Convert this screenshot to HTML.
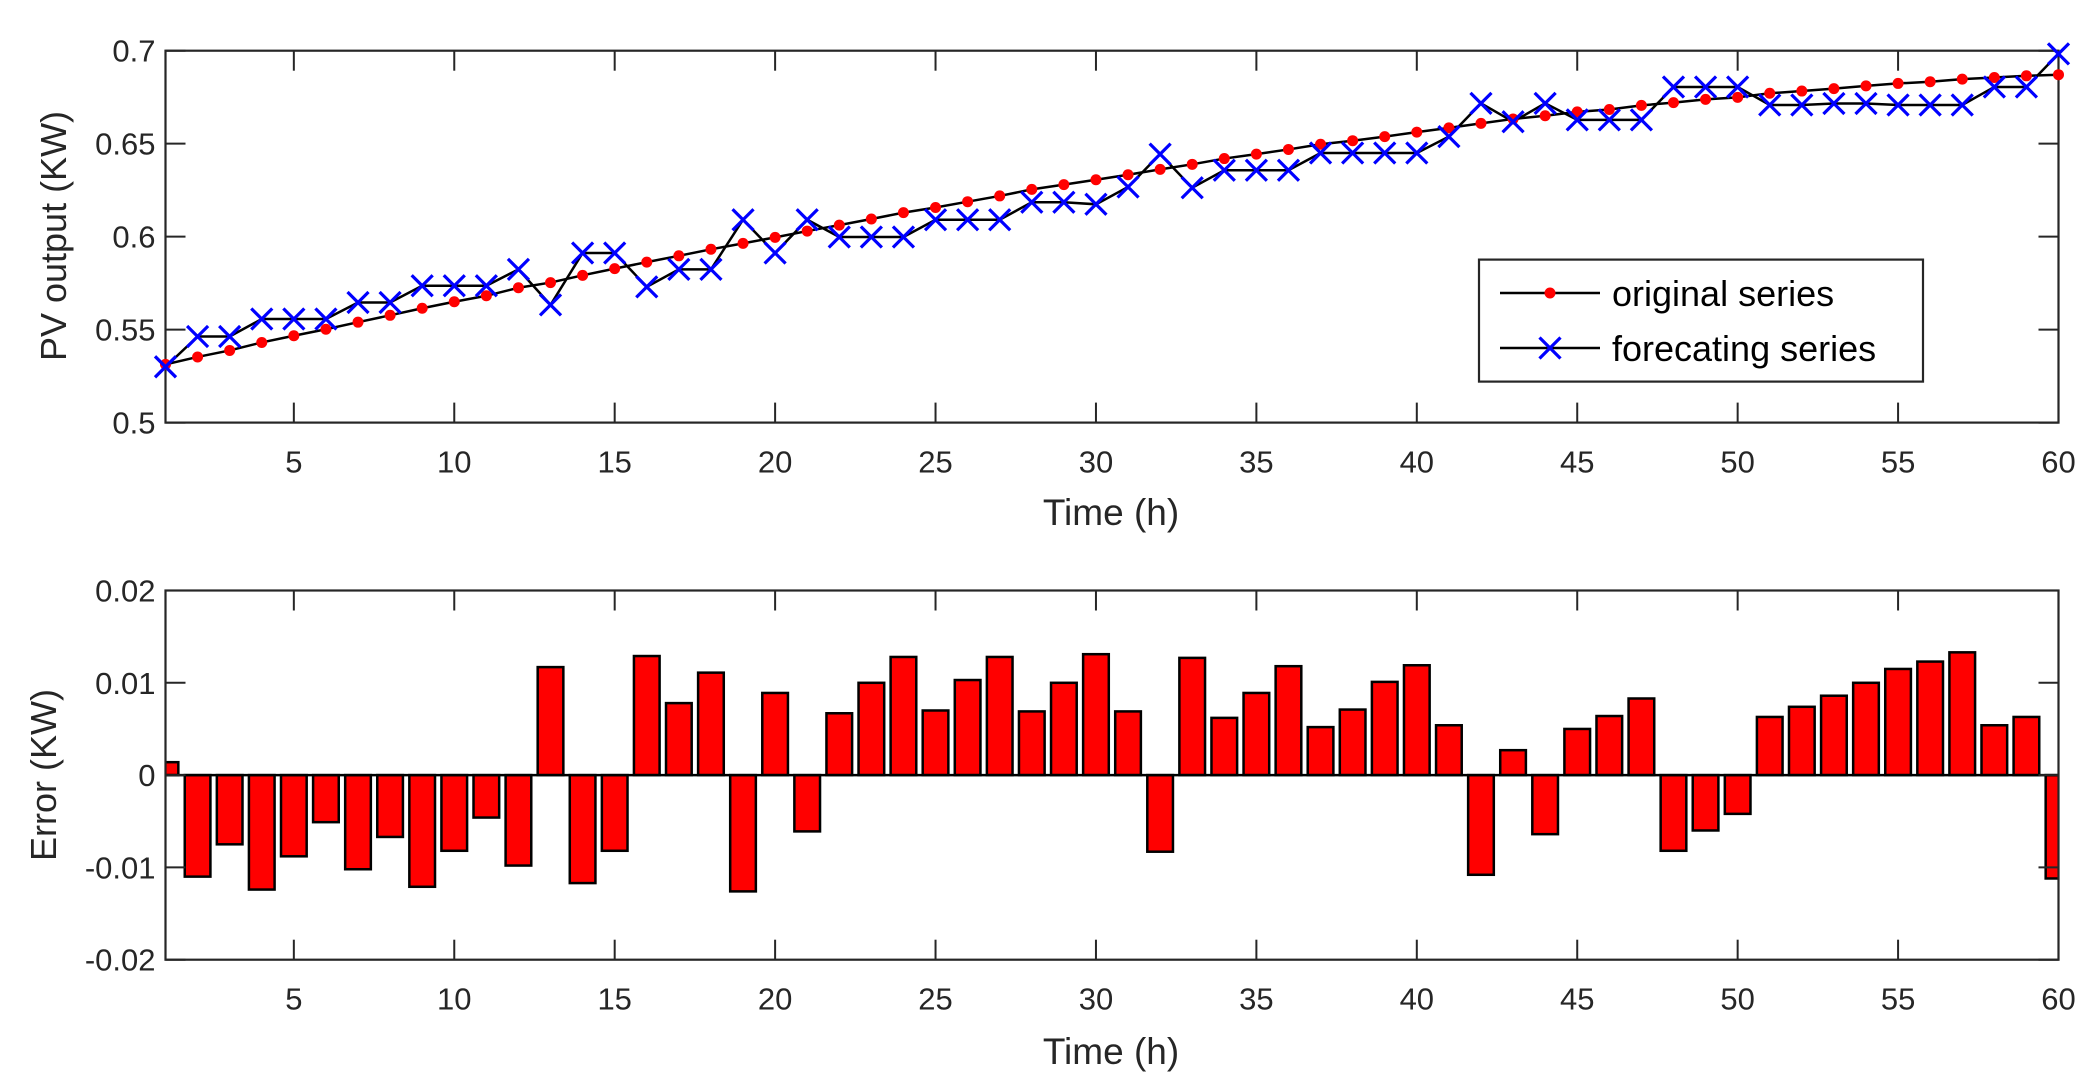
<!DOCTYPE html>
<html><head><meta charset="utf-8"><style>
html,body{margin:0;padding:0;background:#fff;}
svg{display:block;font-family:"Liberation Sans",Arial,sans-serif;}
</style></head><body>
<svg id="chart" width="2099" height="1090" viewBox="0 0 2099 1090" xmlns="http://www.w3.org/2000/svg">
<rect width="2099" height="1090" fill="#fff"/>
<defs>
<clipPath id="clipTop"><rect x="165.5" y="50.7" width="1893" height="372"/></clipPath>
<clipPath id="clipBot"><rect x="165.5" y="590.5" width="1893" height="369.2"/></clipPath>
</defs>
<g id="top"></g>
<g id="bot"></g>
</svg>
<script>
const hours = Array.from({length:60},(_,i)=>i+1);
const original = [0.5313,0.5353,0.5388,0.5431,0.5467,0.5502,0.5540,0.5577,0.5615,0.5650,
0.5682,0.5725,0.5753,0.5792,0.5828,0.5863,0.5897,0.5932,0.5964,0.5996,
0.6030,0.6062,0.6095,0.6129,0.6157,0.6188,0.6219,0.6254,0.6280,0.6306,
0.6333,0.6362,0.6389,0.6420,0.6444,0.6469,0.6497,0.6516,0.6538,0.6562,
0.6585,0.6609,0.6633,0.6650,0.6671,0.6684,0.6706,0.6721,0.6738,0.6749,
0.6771,0.6783,0.6796,0.6811,0.6824,0.6833,0.6847,0.6856,0.6865,0.6871];
const forecast = [0.5300,0.5463,0.5463,0.5557,0.5557,0.5557,0.5646,0.5646,0.5736,0.5736,
0.5736,0.5824,0.5633,0.5912,0.5912,0.5730,0.5824,0.5824,0.6091,0.5912,
0.6091,0.5998,0.5998,0.5998,0.6091,0.6091,0.6091,0.6185,0.6185,0.6174,
0.6267,0.6444,0.6263,0.6357,0.6357,0.6357,0.6450,0.6450,0.6450,0.6450,
0.6538,0.6717,0.6618,0.6717,0.6628,0.6628,0.6628,0.6805,0.6805,0.6805,
0.6708,0.6708,0.6716,0.6716,0.6708,0.6708,0.6708,0.6805,0.6805,0.6983];
const errors = [0.0014,-0.0110,-0.0075,-0.0124,-0.0088,-0.0051,-0.0102,-0.0067,-0.0121,-0.0082,
-0.0046,-0.0098,0.0117,-0.0117,-0.0082,0.0129,0.0078,0.0111,-0.0126,0.0089,
-0.0061,0.0067,0.0100,0.0128,0.0070,0.0103,0.0128,0.0069,0.0100,0.0131,
0.0069,-0.0083,0.0127,0.0062,0.0089,0.0118,0.0052,0.0071,0.0101,0.0119,
0.0054,-0.0108,0.0027,-0.0064,0.0050,0.0064,0.0083,-0.0082,-0.0060,-0.0042,
0.0063,0.0074,0.0086,0.0100,0.0115,0.0123,0.0133,0.0054,0.0063,-0.0112];
const xTicks = [5,10,15,20,25,30,35,40,45,50,55,60];
const yTicksTop = [0.5,0.55,0.6,0.65,0.7];
const yTickLabelsTop = ["0.5","0.55","0.6","0.65","0.7"];
const yTicksBot = [-0.02,-0.01,0,0.01,0.02];
const yTickLabelsBot = ["-0.02","-0.01","0","0.01","0.02"];

const NS="http://www.w3.org/2000/svg";
const L=165.5,R=2058.5;
const xs=v=>L+(v-1)*(R-L)/59;
const T1=50.7,B1=422.6, T2=590.5,B2=959.7;
const yTop=v=>B1-(v-0.5)/(0.2)*(B1-T1);
const yBot=v=>B2-(v+0.02)/(0.04)*(B2-T2);
function mk(tag,attrs,parent){const e=document.createElementNS(NS,tag);for(const k in attrs)e.setAttribute(k,attrs[k]);parent.appendChild(e);return e;}

function axes(g,T,B,yf,ticks,labels,prefix){
  const box=mk('rect',{x:L,y:T,width:R-L,height:B-T,fill:'none',stroke:'#262626','stroke-width':2.2},g);
  
  
  xTicks.forEach(t=>{
    const x=xs(t);
    mk('line',{x1:x,x2:x,y1:B,y2:B-20,stroke:'#262626','stroke-width':2},g);
    mk('line',{x1:x,x2:x,y1:T,y2:T+20,stroke:'#262626','stroke-width':2},g);
    const tx=mk('text',{x:x,y:B+50,'font-size':31,'text-anchor':'middle',fill:'#262626'},g);
    tx.textContent=t;
    
    
  });
  ticks.forEach((t,i)=>{
    const y=yf(t);
    mk('line',{x1:L,x2:L+20,y1:y,y2:y,stroke:'#262626','stroke-width':2},g);
    mk('line',{x1:R,x2:R-20,y1:y,y2:y,stroke:'#262626','stroke-width':2},g);
    const tx=mk('text',{x:L-10,y:y+11,'font-size':31,'text-anchor':'end',fill:'#262626'},g);
    tx.textContent=labels[i];
    
    
  });
}

// top plot
const gt=document.getElementById('top');
axes(gt,T1,B1,yTop,yTicksTop,yTickLabelsTop,'top');
const pts=(arr)=>arr.map((v,i)=>xs(hours[i])+','+yTop(v)).join(' ');
const cg=mk('g',{'clip-path':'url(#clipTop)'},gt);
const lo=mk('polyline',{points:pts(original),fill:'none',stroke:'#000','stroke-width':2.5},cg);


const lf=mk('polyline',{points:pts(forecast),fill:'none',stroke:'#000','stroke-width':2.5},cg);


original.forEach((v,i)=>{
  const c=mk('circle',{cx:xs(hours[i]),cy:yTop(v),r:5.5,fill:'#ff0000'},gt);
  
  
});
forecast.forEach((v,i)=>{
  const x=xs(hours[i]),y=yTop(v),s=10.5;
  const p=mk('path',{d:`M${x-s},${y-s}L${x+s},${y+s}M${x-s},${y+s}L${x+s},${y-s}`,stroke:'#0000ff','stroke-width':3.2,fill:'none'},gt);
  
  
});
// labels top
let t=mk('text',{x:1111,y:525,'font-size':37,'text-anchor':'middle',fill:'#262626'},gt);
t.textContent='Time (h)';


t=mk('text',{x:0,y:0,'font-size':36,'text-anchor':'middle',fill:'#262626',transform:'translate(66,236) rotate(-90)'},gt);
t.textContent='PV output (KW)';


// legend
const lg=mk('g',{},gt);


mk('rect',{x:1479,y:259.6,width:444,height:122,fill:'#fff',stroke:'#262626','stroke-width':2.2},lg);
mk('line',{x1:1500,x2:1600,y1:293,y2:293,stroke:'#000','stroke-width':2.5},lg);
mk('circle',{cx:1550,cy:293,r:5.5,fill:'#ff0000'},lg);
mk('line',{x1:1500,x2:1600,y1:348,y2:348,stroke:'#000','stroke-width':2.5},lg);
mk('path',{d:'M1539.5,337.5L1560.5,358.5M1539.5,358.5L1560.5,337.5',stroke:'#0000ff','stroke-width':3.2},lg);
t=mk('text',{x:1612,y:306,'font-size':36,fill:'#000'},lg);
t.textContent='original series';


t=mk('text',{x:1612,y:361,'font-size':36,fill:'#000'},lg);
t.textContent='forecating series';



// bottom plot
const gb=document.getElementById('bot');
const bg=mk('g',{'clip-path':'url(#clipBot)'},gb);
const bw=(R-L)/59*0.8;
errors.forEach((v,i)=>{
  const x=xs(hours[i]);
  const y0=yBot(0),y1=yBot(v);
  const r=mk('rect',{x:x-bw/2,y:Math.min(y0,y1),width:bw,height:Math.abs(y1-y0),fill:'#ff0000',stroke:'#000','stroke-width':2.5},bg);
  
  
});
mk('line',{x1:L,x2:R,y1:yBot(0),y2:yBot(0),stroke:'#000','stroke-width':2.5},gb);
axes(gb,T2,B2,yBot,yTicksBot,yTickLabelsBot,'bottom');
t=mk('text',{x:1111,y:1064,'font-size':37,'text-anchor':'middle',fill:'#262626'},gb);
t.textContent='Time (h)';


t=mk('text',{x:0,y:0,'font-size':36,'text-anchor':'middle',fill:'#262626',transform:'translate(56,775) rotate(-90)'},gb);
t.textContent='Error (KW)';


</script>
</body></html>
